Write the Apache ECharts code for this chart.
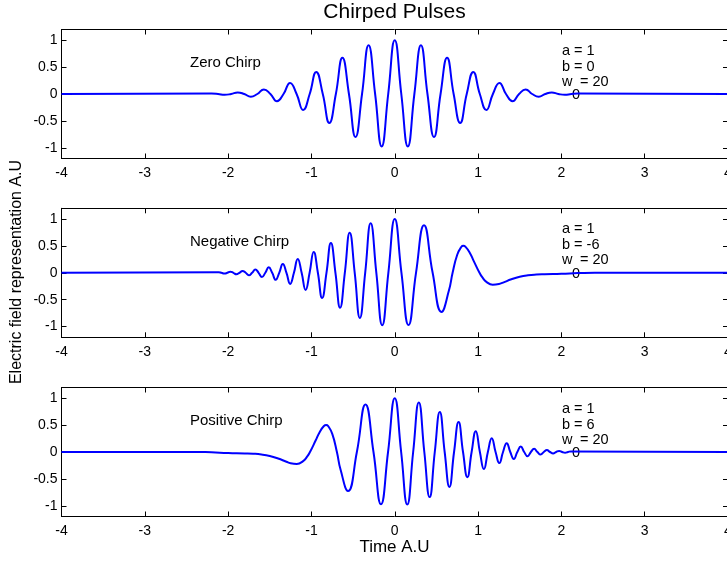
<!DOCTYPE html>
<html><head><meta charset="utf-8">
<script src="https://cdn.jsdelivr.net/npm/echarts@6/dist/echarts.min.js"></script>
<style>html,body{margin:0;padding:0;background:#fff}#c{width:727px;height:561px}</style>
</head><body><div id="c"></div>
<script>
// ---- data ----
const xTicks = [-4, -3, -2, -1, 0, 1, 2, 3, 4];
const yTicks = [-1, -0.5, 0, 0.5, 1];
const panelNames = ['Zero Chirp', 'Negative Chirp', 'Positive Chirp'];
const paramA = [1, 1, 1];
const paramB = [0, -6, 6];
const paramW0 = [20, 20, 20];

const zeroT = [-4, -2.1991, -2.1206, -2.0420, -1.9635, -1.8850, -1.8064, -1.7279, -1.6493, -1.5708, -1.4923,
  -1.4137, -1.3352, -1.2566, -1.1781, -1.0996, -1.0210, -0.9425, -0.8639, -0.7854, -0.7069, -0.6283, -0.5498,
  -0.4712, -0.3927, -0.3142, -0.2356, -0.1571, -0.0785, 0, 0.0785, 0.1571, 0.2356, 0.3142, 0.3927, 0.4712,
  0.5498, 0.6283, 0.7069, 0.7854, 0.8639, 0.9425, 1.0210, 1.0996, 1.1781, 1.2566, 1.3352, 1.4137, 1.4923,
  1.5708, 1.6493, 1.7279, 1.8064, 1.8850, 1.9635, 2.0420, 2.1206, 2.1991, 4];
const zeroY = [0, 0.0079, 0, -0.0155, 0, 0.0286, 0, -0.0505, 0, 0.0848, 0, -0.1355, 0, 0.2062, 0, -0.2985, 0,
  0.4113, 0, -0.5396, 0, 0.6738, 0, -0.8008, 0, 0.9060, 0, -0.9756, 0, 1, 0, -0.9756, 0, 0.9060, 0, -0.8008, 0,
  0.6738, 0, -0.5396, 0, 0.4113, 0, -0.2985, 0, 0.2062, 0, -0.1355, 0, 0.0848, 0, -0.0505, 0, 0.0286, 0,
  -0.0155, 0, 0.0079, 0];

const negT = [-4, -2.1145, -2.0797, -2.0446, -2.0092, -1.9733, -1.9372, -1.9008, -1.8638, -1.8266, -1.7889,
  -1.7508, -1.7123, -1.6733, -1.6339, -1.5940, -1.5536, -1.5127, -1.4713, -1.4293, -1.3867, -1.3435, -1.2997,
  -1.2553, -1.2101, -1.1642, -1.1176, -1.0702, -1.0219, -0.9728, -0.9228, -0.8716, -0.8195, -0.7663, -0.7119,
  -0.6562, -0.5992, -0.5407, -0.4805, -0.4187, -0.3549, -0.2891, -0.2210, -0.1503, -0.0768, 0, 0.0805, 0.1653,
  0.2552, 0.3512, 0.4548, 0.5615, 0.65, 0.6944, 0.75, 0.8, 0.823, 0.85, 0.9, 0.95, 1.0173, 1.05, 1.1, 1.176,
  1.25, 1.3, 1.4, 1.5, 1.6, 1.7, 1.8, 2.0, 2.2, 2.4, 4];
const negY = [0, 0.0114, 0, -0.0153, 0, 0.0204, 0, -0.0270, 0, 0.0356, 0, -0.0466, 0, 0.0608, 0, -0.0788, 0,
  0.1014, 0, -0.1297, 0, 0.1645, 0, -0.2068, 0, 0.2579, 0, -0.3181, 0, 0.3882, 0, -0.4678, 0, 0.5559, 0,
  -0.6501, 0, 0.7465, 0, -0.8392, 0, 0.9198, 0, -0.9777, 0, 1, 0, -0.9730, 0, 0.8840, 0, -0.727, -0.331, 0,
  0.336, 0.484, 0.501, 0.483, 0.374, 0.213, 0, -0.082, -0.169, -0.221, -0.209, -0.182, -0.121, -0.074, -0.046,
  -0.032, -0.026, -0.018, -0.006, 0.002, 0];

const posT = [-4, -2.4, -2.2, -2.0, -1.8, -1.7, -1.6, -1.5, -1.4, -1.3, -1.25, -1.176, -1.1, -1.05, -1.0173,
  -0.95, -0.9, -0.85, -0.823, -0.8, -0.75, -0.6944, -0.65, -0.5615, -0.4548, -0.3512, -0.2552, -0.1653, -0.0805,
  0, 0.0768, 0.1503, 0.2210, 0.2891, 0.3549, 0.4187, 0.4805, 0.5407, 0.5992, 0.6562, 0.7119, 0.7663, 0.8195,
  0.8716, 0.9228, 0.9728, 1.0219, 1.0702, 1.1176, 1.1642, 1.2101, 1.2553, 1.2997, 1.3435, 1.3867, 1.4293,
  1.4713, 1.5127, 1.5536, 1.5940, 1.6339, 1.6733, 1.7123, 1.7508, 1.7889, 1.8266, 1.8638, 1.9008, 1.9372,
  1.9733, 2.0092, 2.0446, 2.0797, 2.1145, 4];
const posY = [0, 0.002, -0.006, -0.018, -0.026, -0.032, -0.046, -0.074, -0.121, -0.182, -0.209, -0.221, -0.169,
  -0.082, 0, 0.213, 0.374, 0.483, 0.501, 0.484, 0.336, 0, -0.331, -0.727, 0, 0.884, 0, -0.973, 0, 1, 0,
  -0.9777, 0, 0.9198, 0, -0.8392, 0, 0.7465, 0, -0.6501, 0, 0.5559, 0, -0.4678, 0, 0.3882, 0, -0.3181, 0,
  0.2579, 0, -0.2068, 0, 0.1645, 0, -0.1297, 0, 0.1014, 0, -0.0788, 0, 0.0608, 0, -0.0466, 0, 0.0356, 0,
  -0.0270, 0, 0.0204, 0, -0.0153, 0, 0.0114, 0];

// ---- layout / style ----
const FONT = '"Liberation Sans", Arial, Helvetica, sans-serif';
const panelTops = [29.5, 208.3, 387.5];
const panelH = 129;
const gridLeft = 61.5;
const gridWidth = 666.5;
const seriesT = [zeroT, negT, posT];
const seriesY = [zeroY, negY, posY];

const grids = [], xAxes = [], yAxes = [], series = [], graphics = [];
const axisLineStyle = { show: true, onZero: false, lineStyle: { color: '#000', width: 1 } };
for (let i = 0; i < 3; i++) {
  grids.push({ left: gridLeft, top: panelTops[i], width: gridWidth, height: panelH,
    containLabel: false, outerBoundsMode: 'none' });
  const xBase = {
    type: 'value', gridIndex: i, min: xTicks[0], max: xTicks[xTicks.length - 1], interval: 1,
    splitLine: { show: false }, axisLine: axisLineStyle,
    axisTick: { show: true, inside: true, length: 5, lineStyle: { color: '#000', width: 1 } }
  };
  xAxes.push(Object.assign({}, xBase, { position: 'bottom',
    axisLabel: { show: true, color: '#000', fontSize: 14, fontFamily: FONT, margin: 8,
      showMinLabel: true, showMaxLabel: true, hideOverlap: false, customValues: xTicks } }));
  xAxes.push(Object.assign({}, xBase, { position: 'top', axisLabel: { show: false } }));
  const yBase = {
    type: 'value', gridIndex: i, min: -1.2, max: 1.2,
    splitLine: { show: false }, axisLine: axisLineStyle,
    axisTick: { show: true, inside: true, length: 5, customValues: yTicks, lineStyle: { color: '#000', width: 1 } }
  };
  yAxes.push(Object.assign({}, yBase, { position: 'left',
    axisLabel: { show: true, color: '#000', fontSize: 14, fontFamily: FONT, margin: 4, customValues: yTicks } }));
  yAxes.push(Object.assign({}, yBase, { position: 'right', axisLabel: { show: false } }));

  series.push({
    type: 'line', xAxisIndex: 2 * i, yAxisIndex: 2 * i,
    data: seriesT[i].map((t, k) => [t, seriesY[i][k]]),
    smooth: 0.5, showSymbol: false, symbol: 'none', animation: false,
    lineStyle: { color: '#0000ff', width: 2 }
  });

  const top = panelTops[i];
  const txt = (x, y, s, size) => ({ type: 'text', x: x, y: y, silent: true,
    style: { text: s, fill: '#000', font: size + 'px ' + FONT, textAlign: 'left', textVerticalAlign: 'middle' } });
  graphics.push(txt(190, top + 33.5, panelNames[i], 15));
  graphics.push(txt(562, top + 21, 'a = ' + paramA[i], 14.5));
  graphics.push(txt(562, top + 37, 'b = ' + paramB[i], 14.5));
  graphics.push(txt(562, top + 52, 'w', 14.5));
  graphics.push(txt(572, top + 65.5, '0', 14.5));
  graphics.push(txt(580, top + 52, '= ' + paramW0[i], 14.5));
}
graphics.push({ type: 'text', x: 17, y: 272, rotation: Math.PI / 2, silent: true,
  style: { text: 'Electric field representation A.U', fill: '#000', font: '16px ' + FONT,
    textAlign: 'center', textVerticalAlign: 'middle' } });
graphics.push({ type: 'text', x: 394.5, y: 547, silent: true,
  style: { text: 'Time A.U', fill: '#000', font: '17px ' + FONT, textAlign: 'center', textVerticalAlign: 'middle' } });

const chart = echarts.init(document.getElementById('c'), null, { renderer: 'canvas' });
chart.setOption({
  animation: false,
  backgroundColor: '#fff',
  title: { text: 'Chirped Pulses', left: 394.5, top: 1.5, padding: 0, textAlign: 'center',
    textStyle: { fontSize: 21, fontWeight: 'normal', color: '#000', fontFamily: FONT } },
  grid: grids, xAxis: xAxes, yAxis: yAxes, series: series, graphic: graphics
});
</script></body></html>
